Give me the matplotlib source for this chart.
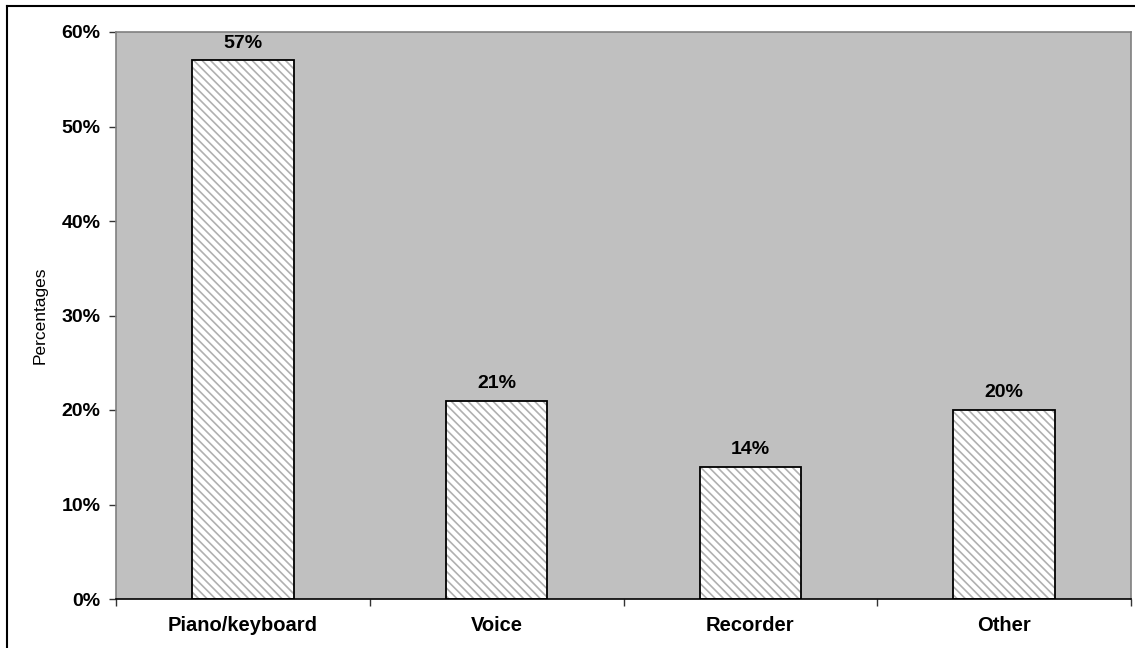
import matplotlib.pyplot as plt
from matplotlib.lines import Line2D
import numpy as np

plt.rcParams['font.family'] = ['Liberation Sans', 'DejaVu Sans']
plt.rcParams['hatch.linewidth'] = 1.2

instruments = ['Piano/keyboard', 'Voice', 'Recorder', 'Other']
percent = [57, 21, 14, 20]
y_ticks = [0, 10, 20, 30, 40, 50, 60]

fig = plt.figure(figsize=(11.35, 6.48), dpi=100)
ax = fig.add_axes([116 / 1135, 1 - 599 / 648, 1015 / 1135, 567 / 648])
ax.set_facecolor('#c0c0c0')

x = np.arange(len(instruments))
# grey diagonal hatch on white, then a black outline on top
ax.bar(x, percent, width=0.4, color='white', edgecolor='#b0b0b0',
       linewidth=0, hatch='\\\\\\\\', zorder=2)
ax.bar(x, percent, width=0.4, fill=False, edgecolor='black',
       linewidth=1.3, zorder=3)

for xi, v in zip(x, percent):
    ax.text(xi, v + 0.9, f'{v}%', ha='center', va='bottom',
            fontsize=14, fontweight='bold')

ax.set_xlim(-0.5, len(instruments) - 0.5)
ax.set_ylim(0, 60)
ax.set_yticks(y_ticks)
ax.set_yticklabels([f'{t}%' for t in y_ticks], fontsize=14, fontweight='bold')
ax.set_xticks(x)
ax.set_xticklabels(instruments, fontsize=14.5, fontweight='bold')
ax.tick_params(axis='x', length=0, pad=12)
ax.tick_params(axis='y', length=5, width=1, color='#333333', pad=6)

# category separator ticks on the x axis
ax.set_xticks(np.arange(-0.5, len(instruments)), minor=True)
ax.tick_params(axis='x', which='minor', length=5, width=1, color='#333333')

ax.set_ylabel('Percentages', fontsize=12.5, labelpad=10)

for side in ['top', 'right', 'left']:
    ax.spines[side].set_color('#808080')
    ax.spines[side].set_linewidth(1.2)
ax.spines['bottom'].set_color('black')
ax.spines['bottom'].set_linewidth(1.2)

# chart frame (top and left edges)
fig.add_artist(Line2D([7 / 1135, 1.0], [1 - 6 / 648] * 2,
                      color='black', linewidth=1.5, transform=fig.transFigure))
fig.add_artist(Line2D([7 / 1135] * 2, [0.0, 1 - 6 / 648],
                      color='black', linewidth=1.5, transform=fig.transFigure))

fig.savefig('out.png', dpi=100)
